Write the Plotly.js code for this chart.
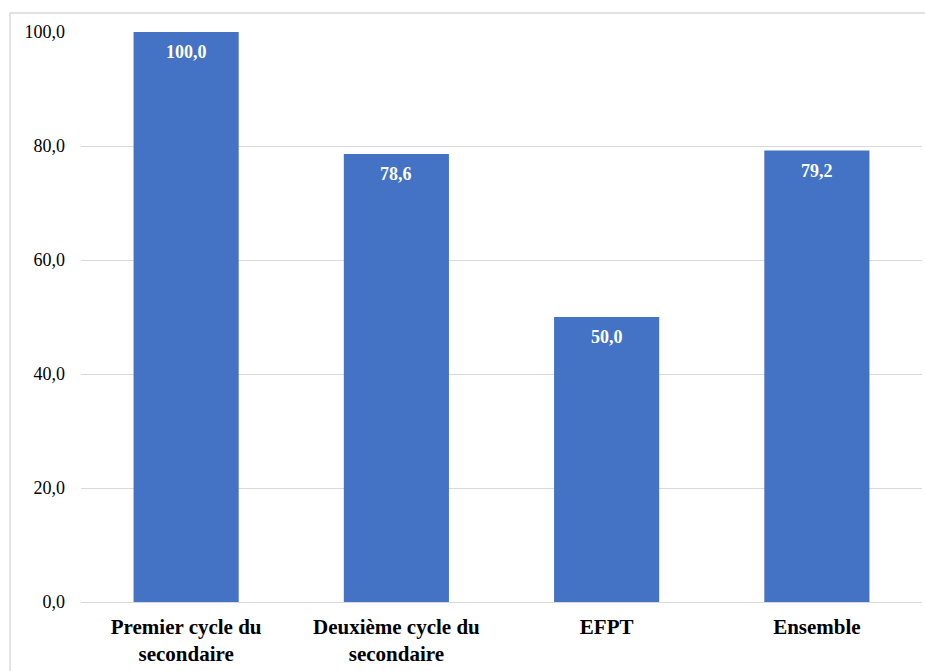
<!DOCTYPE html>
<html><head><meta charset="utf-8">
<script src="https://cdn.plot.ly/plotly-3.0.1.min.js"></script>
<style>html,body{margin:0;padding:0;background:#fff}#c{width:925px;height:671px}</style>
</head><body><div id="c"></div>
<script>
const categories = ["Premier cycle du<br>secondaire", "Deuxième cycle du<br>secondaire", "EFPT", "Ensemble"];
const values = [100.0, 78.6, 50.0, 79.2];
const yTicks = [0, 20, 40, 60, 80, 100];

const FONT = '"Times New Roman", "Liberation Serif", "DejaVu Serif", serif';
const fmt = v => v.toFixed(1).replace('.', ',');

const trace = {
  type: 'bar', x: categories, y: values,
  marker: {color: '#4472C4'},
  hoverinfo: 'skip'
};

const annotations = categories.map((c, i) => ({
  x: c, y: values[i], xref: 'x', yref: 'y',
  text: fmt(values[i]),
  showarrow: false, yanchor: 'top', yshift: -8,
  font: {family: FONT, size: 18, color: '#ffffff', weight: 'bold'}
}));

const layout = {
  width: 925, height: 671,
  margin: {l: 81, r: 3, t: 32, b: 69},
  paper_bgcolor: '#fff', plot_bgcolor: '#fff',
  font: {family: FONT},
  separators: ', ',
  bargap: 0.5,
  showlegend: false,
  xaxis: {
    type: 'category', showgrid: false, zeroline: false, showline: false,
    ticks: '', ticklabelstandoff: 10,
    tickfont: {family: FONT, size: 21, color: '#000', weight: 'bold'}
  },
  yaxis: {
    range: [0, 100], tickvals: yTicks, ticktext: yTicks.map(fmt),
    showgrid: true, gridcolor: '#d9d9d9', gridwidth: 1,
    zeroline: true, zerolinecolor: '#d9d9d9', zerolinewidth: 1,
    showline: false, ticks: '', ticklabelstandoff: 15,
    tickfont: {family: FONT, size: 18, color: '#000'}
  },
  annotations: annotations,
  shapes: [{
    type: 'rect', xref: 'paper', yref: 'paper',
    x0: (10 - 81) / 841, x1: 1.2, y0: -0.3, y1: (602 - 13) / 570,
    line: {color: '#d9d9d9', width: 1.5}, fillcolor: 'rgba(0,0,0,0)', layer: 'below'
  }]
};

Plotly.newPlot('c', [trace], layout, {displayModeBar: false, staticPlot: true});
</script></body></html>
